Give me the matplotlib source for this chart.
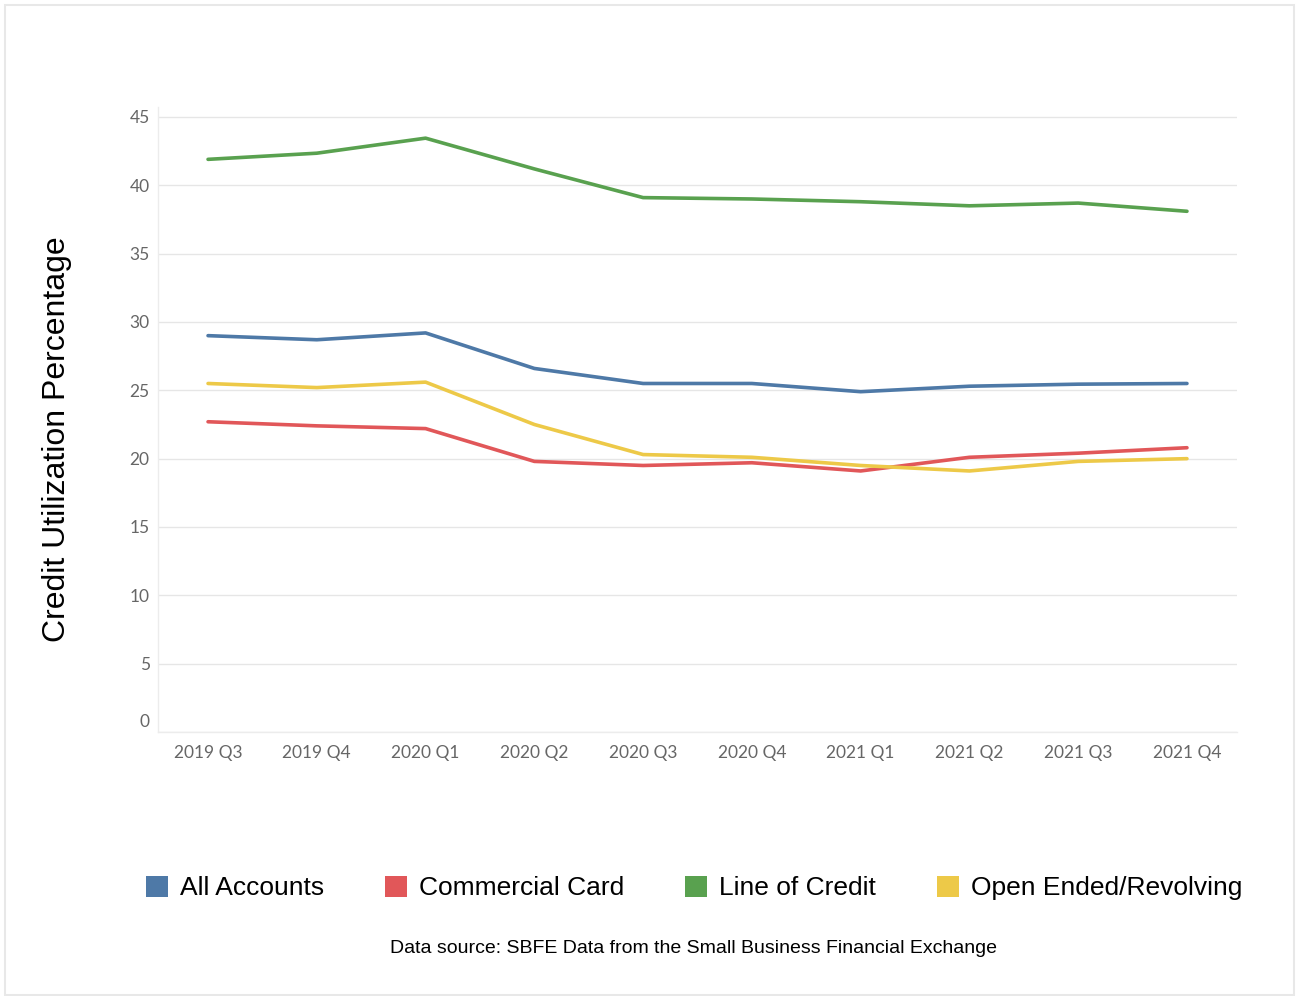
import matplotlib
matplotlib.use("Agg")
import matplotlib.pyplot as plt
import matplotlib.transforms as mtransforms
from matplotlib.patches import Patch, Rectangle

quarters = ["2019 Q3", "2019 Q4", "2020 Q1", "2020 Q2", "2020 Q3",
            "2020 Q4", "2021 Q1", "2021 Q2", "2021 Q3", "2021 Q4"]
all_accounts = [29.0, 28.7, 29.2, 26.6, 25.5, 25.5, 24.9, 25.3, 25.45, 25.5]
commercial_card = [22.7, 22.4, 22.2, 19.8, 19.5, 19.7, 19.1, 20.1, 20.4, 20.8]
line_of_credit = [41.9, 42.35, 43.45, 41.2, 39.1, 39.0, 38.8, 38.5, 38.7, 38.1]
open_ended = [25.5, 25.2, 25.6, 22.5, 20.3, 20.1, 19.5, 19.1, 19.8, 20.0]

series_names = ["All Accounts", "Commercial Card", "Line of Credit", "Open Ended/Revolving"]
series_vals = [all_accounts, commercial_card, line_of_credit, open_ended]
colors = ["#4e79a7", "#e15759", "#59a14f", "#edc948"]

fig = plt.figure(figsize=(12.96, 9.96), dpi=100)
fig.patches.append(Rectangle((5 / 1296, 1 - 995 / 996), 1289 / 1296, 990 / 996,
                             transform=fig.transFigure, fill=False,
                             edgecolor="#e8e8e8", linewidth=1.5))

ax = fig.add_axes([158 / 1296, 1 - 732 / 996, (1237 - 158) / 1296, (732 - 107) / 996])

x = list(range(len(quarters)))
for name, vals, c in zip(series_names, series_vals, colors):
    ax.plot(x, vals, color=c, linewidth=2.6, solid_capstyle="round", zorder=3)

ax.set_xlim(-0.46, len(quarters) - 1 + 0.46)
ax.set_ylim(0, 45.73)
ax.set_yticks(range(0, 46, 5))
ax.set_xticks(x)
ax.set_xticklabels(quarters)
ax.grid(axis="y", color="#e6e6e6", linewidth=1)
ax.tick_params(length=0, labelsize=12.5, labelcolor="#666666")
ax.tick_params(axis="x", pad=9)
ax.tick_params(axis="y", pad=6)
for lab in ax.get_xticklabels() + ax.get_yticklabels():
    lab.set_family("Lato")
# the zero label sits a little above the baseline in the original
zero_lab = ax.get_yticklabels()[0]
zero_lab.set_transform(zero_lab.get_transform() +
                       mtransforms.ScaledTranslation(0, 12 / 100, fig.dpi_scale_trans))
for side in ["top", "right"]:
    ax.spines[side].set_visible(False)
for side in ["left", "bottom"]:
    ax.spines[side].set_color("#ececec")
    ax.spines[side].set_linewidth(1)

fig.text(57 / 1296, 1 - 439 / 996, "Credit Utilization Percentage", rotation=90,
         ha="center", va="center", fontsize=23, family="Liberation Sans")

handles = [Patch(facecolor=c, edgecolor="none") for c in colors]
fig.legend(handles, series_names, loc="center", ncol=4,
           bbox_to_anchor=(694 / 1296, 1 - 888 / 996), frameon=False,
           prop={"family": "Liberation Sans", "size": 19},
           handlelength=0.85, handleheight=0.85, handletextpad=0.45,
           columnspacing=2.3)

fig.text(693 / 1296, 1 - 948 / 996,
         "Data source: SBFE Data from the Small Business Financial Exchange",
         ha="center", va="center", fontsize=14, family="Liberation Sans")

fig.savefig("out.png", dpi=100, facecolor="white")
